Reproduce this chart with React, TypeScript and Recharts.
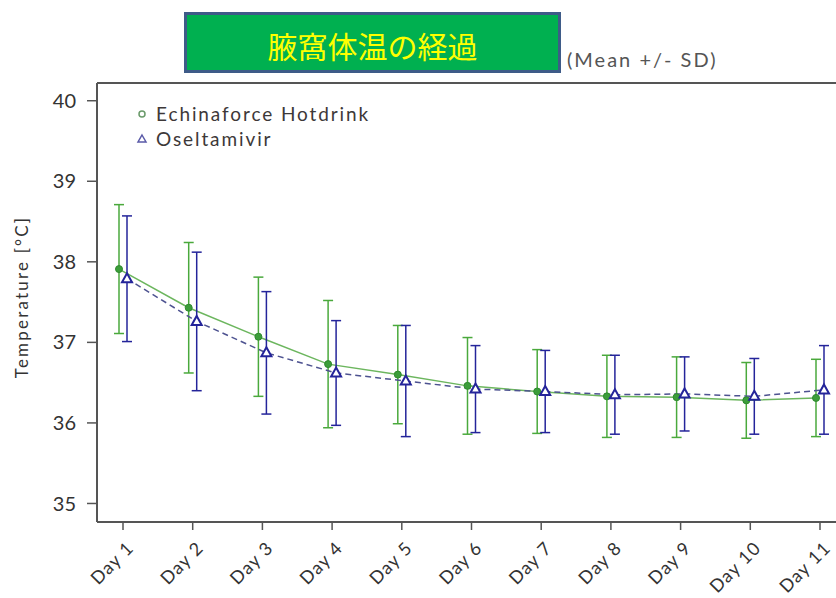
import { ErrorBar, Legend, Line, LineChart, ReferenceLine, XAxis, YAxis } from 'recharts';

const days = ['Day 1', 'Day 2', 'Day 3', 'Day 4', 'Day 5', 'Day 6', 'Day 7', 'Day 8', 'Day 9', 'Day 10', 'Day 11'];
const echinaMean = [37.91, 37.43, 37.07, 36.73, 36.6, 36.46, 36.39, 36.33, 36.32, 36.28, 36.31];
const echinaSd = [0.8, 0.81, 0.74, 0.79, 0.61, 0.6, 0.52, 0.51, 0.5, 0.47, 0.48];
const oselMean = [37.79, 37.26, 36.87, 36.62, 36.52, 36.42, 36.39, 36.35, 36.36, 36.33, 36.41];
const oselSd = [0.78, 0.86, 0.76, 0.65, 0.69, 0.54, 0.51, 0.49, 0.46, 0.47, 0.55];
const yTicks = [35, 36, 37, 38, 39, 40];
const yDomain = [34.77, 40.22];

const data = days.map((day, i) => ({
  day,
  gMean: echinaMean[i],
  gSd: echinaSd[i],
  bMean: oselMean[i],
  bSd: oselSd[i],
}));

const FONT = 'Lato, "Open Sans", sans-serif';
const GREEN = '#4aa93c';
const NAVY = '#24249a';

const Triangle = (props: any) => {
  const { cx, cy } = props;
  if (cx == null || cy == null) return null;
  return (
    <path
      d={`M${cx},${cy - 5.5} L${cx + 5},${cy + 3.5} L${cx - 5},${cy + 3.5} Z`}
      fill="#fff"
      stroke={NAVY}
      strokeWidth={2}
    />
  );
};

const DayTick = (props: any) => {
  const { x, y, payload } = props;
  return (
    <g transform={`translate(${x + 12},${y + 17})`}>
      <text textAnchor="end" transform="rotate(-45)" fontSize={18} fill="#333" fontFamily={FONT} letterSpacing={1.2}>
        {payload.value}
      </text>
    </g>
  );
};

const LegendBox = () => (
  <div style={{ fontFamily: FONT, fontSize: 19, color: '#3d3838', letterSpacing: 1.9, lineHeight: '25px' }}>
    <div style={{ display: 'flex', alignItems: 'center', whiteSpace: 'nowrap' }}>
      <svg width={14} height={25}>
        <circle cx={6} cy={13} r={3} fill="none" stroke="#6a9a6a" strokeWidth={1.5} />
      </svg>
      <span style={{ marginLeft: 6 }}>Echinaforce Hotdrink</span>
    </div>
    <div style={{ display: 'flex', alignItems: 'center', whiteSpace: 'nowrap' }}>
      <svg width={14} height={25}>
        <path d="M6,9 L10,16 L2,16 Z" fill="none" stroke="#5a5aa8" strokeWidth={1.5} />
      </svg>
      <span style={{ marginLeft: 6 }}>Oseltamivir</span>
    </div>
  </div>
);

export default function App() {
  return (
    <div style={{ position: 'relative', width: 836, height: 598, overflow: 'hidden', background: '#fff' }}>
      <style>{'body{margin:0}'}</style>
      <div
        style={{
          position: 'absolute',
          left: 184,
          top: 12,
          width: 377,
          height: 61,
          boxSizing: 'border-box',
          background: '#00b050',
          border: '3px solid #3e5b88',
          display: 'flex',
          alignItems: 'center',
          justifyContent: 'center',
          color: '#ffff00',
          fontFamily: '"Noto Sans CJK JP", sans-serif',
          fontSize: 30,
          paddingTop: 4,
        }}
      >
        腋窩体温の経過
      </div>
      <div
        style={{
          position: 'absolute',
          left: 567,
          top: 47,
          fontFamily: FONT,
          fontSize: 20,
          letterSpacing: 2,
          color: '#555',
          whiteSpace: 'nowrap',
        }}
      >
        (Mean +/- SD)
      </div>
      <div
        style={{
          position: 'absolute',
          left: 21,
          top: 297,
          transform: 'translate(-50%, -50%) rotate(-90deg)',
          fontFamily: FONT,
          fontSize: 17,
          letterSpacing: 2.2,
          color: '#333',
          whiteSpace: 'nowrap',
        }}
      >
        Temperature [°C]
      </div>
      <div style={{ position: 'absolute', left: 0, top: 0 }}>
        <LineChart width={900} height={598} data={data} margin={{ top: 83, right: 54, bottom: 16, left: 37 }}>
          <XAxis xAxisId="g" dataKey="day" hide height={0} padding={{ left: 22, right: 30 }} />
          <XAxis xAxisId="b" dataKey="day" hide height={0} padding={{ left: 30, right: 22 }} />
          <XAxis
            xAxisId="main"
            dataKey="day"
            padding={{ left: 26, right: 26 }}
            height={60}
            interval={0}
            tick={<DayTick />}
            tickSize={8}
            axisLine={{ stroke: '#555', strokeWidth: 2 }}
            tickLine={{ stroke: '#555', strokeWidth: 1.5 }}
          />
          <YAxis
            width={60}
            type="number"
            domain={yDomain}
            allowDataOverflow
            ticks={yTicks}
            tickSize={10}
            tickMargin={11}
            tick={{ fill: '#333', fontSize: 20, fontFamily: FONT }}
            axisLine={{ stroke: '#555', strokeWidth: 2 }}
            tickLine={{ stroke: '#555', strokeWidth: 1.5 }}
          />
          <ReferenceLine xAxisId="main" y={yDomain[1]} stroke="#555" strokeWidth={2} />
          <Legend
            layout="vertical"
            align="center"
            verticalAlign="middle"
            content={<LegendBox />}
            wrapperStyle={{ top: 101, left: 136, width: 'auto' }}
          />
          <Line
            xAxisId="main"
            dataKey="gMean"
            stroke="none"
            dot={false}
            activeDot={false}
            legendType="none"
            isAnimationActive={false}
          />
          <Line
            xAxisId="g"
            dataKey="gMean"
            name="Echinaforce Hotdrink"
            stroke="#6cb65e"
            strokeWidth={1.5}
            dot={{ r: 3.5, fill: '#3c9d3a', stroke: '#2f8a2f', strokeWidth: 1 }}
            activeDot={false}
            isAnimationActive={false}
          >
            <ErrorBar dataKey="gSd" width={5} stroke={GREEN} strokeWidth={1.5} direction="y" />
          </Line>
          <Line
            xAxisId="b"
            dataKey="bMean"
            name="Oseltamivir"
            stroke="#4d5290"
            strokeWidth={1.5}
            strokeDasharray="6 4"
            dot={<Triangle />}
            activeDot={false}
            isAnimationActive={false}
          >
            <ErrorBar dataKey="bSd" width={5} stroke={NAVY} strokeWidth={1.5} direction="y" />
          </Line>
        </LineChart>
      </div>
    </div>
  );
}
